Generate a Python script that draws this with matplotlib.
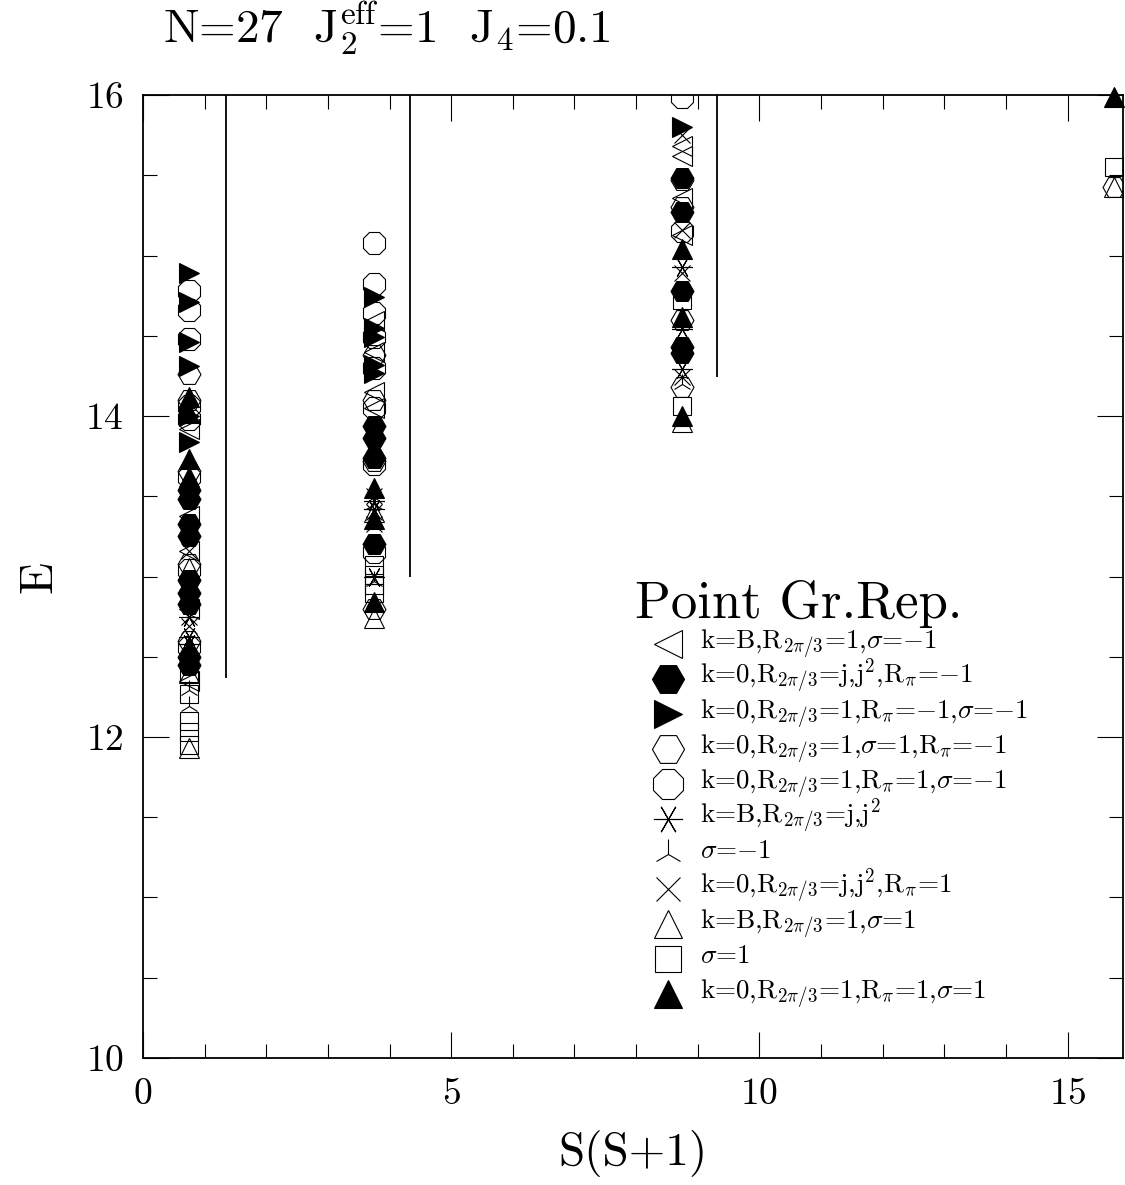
import matplotlib
matplotlib.use("Agg")
import matplotlib.pyplot as plt

plt.rcParams['font.family'] = 'serif'
plt.rcParams['font.serif'] = ['cmr10']
plt.rcParams['mathtext.fontset'] = 'cm'
plt.rcParams['axes.formatter.use_mathtext'] = True

# S(S+1) for S = 1/2, 3/2, 5/2, 7/2
ss1 = [0.75, 3.75, 8.75, 15.75]

# energies of each symmetry class, one list per S column
e_kB_sm = [[13.92, 13.38, 13.16, 12.8, 12.35], [14.59, 14.4, 14.15, 14.05], [15.68, 15.62, 15.36, 15.13], []]
e_k0_jj_rm = [[13.54, 13.48, 13.33, 13.25, 12.98, 12.9, 12.83, 12.5, 12.45],
              [13.94, 13.86, 13.74, 13.2], [15.48, 15.27, 14.78, 14.43, 14.39], []]
e_k0_r1_rm_sm = [[14.89, 14.71, 14.46, 14.31, 14.0, 13.84], [14.74, 14.55, 14.49, 14.32, 14.27], [15.8], []]
e_k0_r1_sp_rm = [[14.26, 14.1, 13.66, 13.08, 12.6], [14.38, 14.1, 13.72, 12.8], [15.47, 15.3, 14.6, 14.18], [15.43]]
e_k0_r1_rp_sm = [[14.78, 14.66, 14.48, 14.06, 13.98, 13.62, 13.04, 12.56],
                 [15.08, 14.82, 14.64, 14.49, 14.3, 14.05, 13.7, 13.15], [15.99, 15.15], []]
e_kB_jj = [[12.75, 12.62, 12.58], [13.47, 13.42, 13.0], [14.93, 14.54, 14.29], []]
e_sm = [[12.56, 12.29, 12.19], [13.45, 12.97], [14.2], []]
e_k0_jj_rp = [[13.16, 12.75, 12.69], [13.5, 13.4, 13.33], [15.75, 15.16, 14.89, 14.24], []]
e_kB_sp = [[13.05, 12.4, 11.93], [13.4, 12.74], [13.96], [15.43]]
e_sp = [[12.4, 12.27, 12.1, 12.03, 11.95], [13.07, 13.01, 12.95, 12.9], [14.72, 14.06], [15.55]]
e_k0_r1_rp_sp = [[14.12, 14.02, 13.73, 13.62, 12.55], [13.55, 13.36, 12.84], [15.04, 14.62, 14.0], [15.99]]

# vertical separators
line_x = [1.35, 4.33, 9.31]
line_bottom = [12.37, 13.0, 14.24]

series = [e_kB_sm, e_k0_jj_rm, e_k0_r1_rm_sm, e_k0_r1_sp_rm, e_k0_r1_rp_sm,
          e_kB_jj, e_sm, e_k0_jj_rp, e_kB_sp, e_sp, e_k0_r1_rp_sp]
labels = [
    r'k=B,$\mathrm{R}_{2\pi/3}$=1,$\sigma$=$-$1',
    r'k=0,$\mathrm{R}_{2\pi/3}$=j,$\mathrm{j}^2$,$\mathrm{R}_\pi$=$-$1',
    r'k=0,$\mathrm{R}_{2\pi/3}$=1,$\mathrm{R}_\pi$=$-$1,$\sigma$=$-$1',
    r'k=0,$\mathrm{R}_{2\pi/3}$=1,$\sigma$=1,$\mathrm{R}_\pi$=$-$1',
    r'k=0,$\mathrm{R}_{2\pi/3}$=1,$\mathrm{R}_\pi$=1,$\sigma$=$-$1',
    r'k=B,$\mathrm{R}_{2\pi/3}$=j,$\mathrm{j}^2$',
    r'$\sigma$=$-$1',
    r'k=0,$\mathrm{R}_{2\pi/3}$=j,$\mathrm{j}^2$,$\mathrm{R}_\pi$=1',
    r'k=B,$\mathrm{R}_{2\pi/3}$=1,$\sigma$=1',
    r'$\sigma$=1',
    r'k=0,$\mathrm{R}_{2\pi/3}$=1,$\mathrm{R}_\pi$=1,$\sigma$=1',
]
# marker, filled, size
styles = [('<', False, 14), ('H', True, 16.5), ('>', True, 14), ('H', False, 16.5),
          ('8', False, 17), ((6, 2, 90), False, 15), ('2', False, 15), ('x', False, 12),
          ('^', False, 14), ('s', False, 13), ('^', True, 14)]

fig = plt.figure(figsize=(11.25, 11.85), dpi=100)
ax = fig.add_axes([0.1271, 0.1072, 0.8711, 0.8126])

ax.vlines(line_x, line_bottom, 16, color='k', lw=1.3)

for vals, (m, filled, ms) in zip(series, styles):
    for x, ys in zip(ss1, vals):
        if not ys:
            continue
        ax.plot([x] * len(ys), ys, ls='none', marker=m, ms=ms,
                mfc='k' if filled else 'none', mec='k', mew=0.8,
                clip_on=not filled)

ax.set_xlim(0, 15.9)
ax.set_ylim(10, 16)
ax.set_xticks([0, 5, 10, 15])
ax.set_xticks(range(0, 16), minor=True)
ax.set_yticks([10, 12, 14, 16])
ax.set_yticks([10 + 0.5 * i for i in range(13)], minor=True)
ax.tick_params(which='both', direction='in', top=True, right=True, width=0.8, labelsize=27)
ax.tick_params(which='major', length=19, pad=14)
ax.tick_params(which='minor', length=10)
for sp in ax.spines.values():
    sp.set_linewidth(1.3)

ax.set_xlabel('S(S+1)', fontsize=34, labelpad=14)
ax.set_ylabel('E', fontsize=34, labelpad=18)

fig.text(0.145, 0.9637, r'N=27  $\mathrm{J}_2^{\mathrm{eff}}$=1  $\mathrm{J}_4$=0.1', fontsize=34, va='baseline')

# legend drawn by hand
ax.text(0.502, 0.4569, 'Point Gr.Rep.', transform=ax.transAxes, fontsize=38, va='baseline')
for i, (lab, (m, filled, ms)) in enumerate(zip(labels, styles)):
    yb = 0.4258 - i * 35.0 / 963
    ax.plot([0.5357], [yb + 4.0 / 963], transform=ax.transAxes, ls='none', marker=m,
            ms=ms * 1.4, mfc='k' if filled else 'none', mec='k', mew=0.8, clip_on=False)
    ax.text(0.568, yb, lab, transform=ax.transAxes, fontsize=19.5, va='baseline')

fig.savefig('out.png', dpi=100)
